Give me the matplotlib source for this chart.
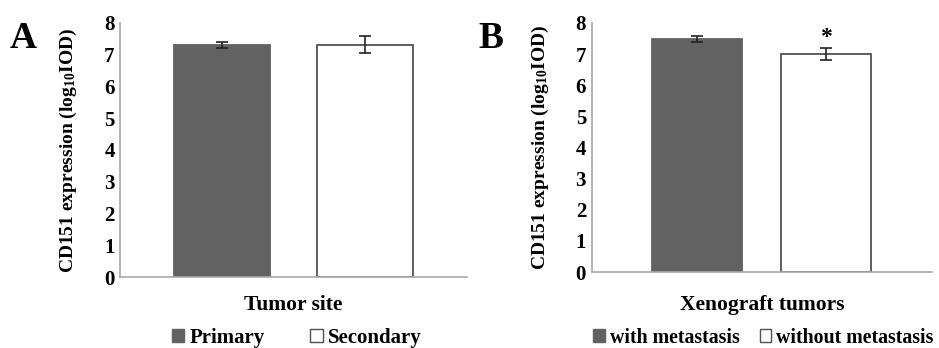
import matplotlib.pyplot as plt
from matplotlib.patches import Patch

plt.rcParams['font.family'] = ['Liberation Serif', 'DejaVu Serif']
plt.rcParams['font.weight'] = 'bold'
plt.rcParams['axes.labelweight'] = 'bold'
plt.rcParams['mathtext.fontset'] = 'custom'
plt.rcParams['mathtext.rm'] = 'Liberation Serif:bold'
plt.rcParams['mathtext.bf'] = 'Liberation Serif:bold'
plt.rcParams['mathtext.default'] = 'regular'

# panel A
site_labels = ["Primary", "Secondary"]
site_means = [7.30, 7.32]
site_err = [0.10, 0.26]

# panel B
xeno_labels = ["with metastasis", "without metastasis"]
xeno_means = [7.49, 7.00]
xeno_err = [0.09, 0.20]

dark = "#626262"
edge = "#505050"
spine_col = "#a8a8a8"

fig = plt.figure(figsize=(9.39, 3.48), dpi=100)
axA = fig.add_axes([0.128, 0.204, 0.369, 0.730])
axB = fig.add_axes([0.630, 0.218, 0.363, 0.716])


def draw_panel(ax, means, errs, labels, xlabel, width, xlim, letter, letter_x, xlab_y,
               leg_x, colsp, leg_fs):
    x = [0, 1]
    ax.bar(x, means, width=width, color=[dark, "white"], edgecolor=[dark, edge],
           linewidth=1.3, yerr=errs, capsize=4,
           error_kw=dict(ecolor="#222222", elinewidth=1.2, capthick=1.2))
    ax.set_xlim(*xlim)
    ax.set_ylim(0, 8)
    ax.set_yticks(range(0, 9))
    ax.tick_params(axis='y', length=0, labelsize=15, pad=4)
    ax.set_xticks([])
    for s in ["top", "right"]:
        ax.spines[s].set_visible(False)
    for s in ["left", "bottom"]:
        ax.spines[s].set_color(spine_col)
        ax.spines[s].set_linewidth(1.2)
    ax.set_ylabel("CD151 expression (log$_{10}$IOD)", fontsize=14, labelpad=18)
    ax.set_xlabel(xlabel, fontsize=15.5, va="top")
    ax.xaxis.set_label_coords(0.5, xlab_y)
    handles = [Patch(facecolor=dark, edgecolor=dark), Patch(facecolor="white", edgecolor=edge)]
    fig.legend(handles, labels, loc="center", bbox_to_anchor=(leg_x, 0.03), ncol=2,
               frameon=False, fontsize=leg_fs, handlelength=0.6, handleheight=0.6,
               handletextpad=0.25, columnspacing=colsp, borderpad=0)
    fig.text(letter_x, 0.94, letter, fontsize=27, fontweight="bold", va="top", ha="left")


draw_panel(axA, site_means, site_err, site_labels, "Tumor site", 0.67, (-0.707, 1.71),
           "A", 0.010, -0.07, 0.316, 2.2, 15)
draw_panel(axB, xeno_means, xeno_err, xeno_labels, "Xenograft tumors", 0.70, (-0.82, 1.83),
           "B", 0.509, -0.09, 0.813, 1.0, 14.3)

axB.text(1, xeno_means[1] + xeno_err[1] + 0.34, "*", ha="center", va="center", fontsize=17)

fig.savefig("out.png", dpi=100)
